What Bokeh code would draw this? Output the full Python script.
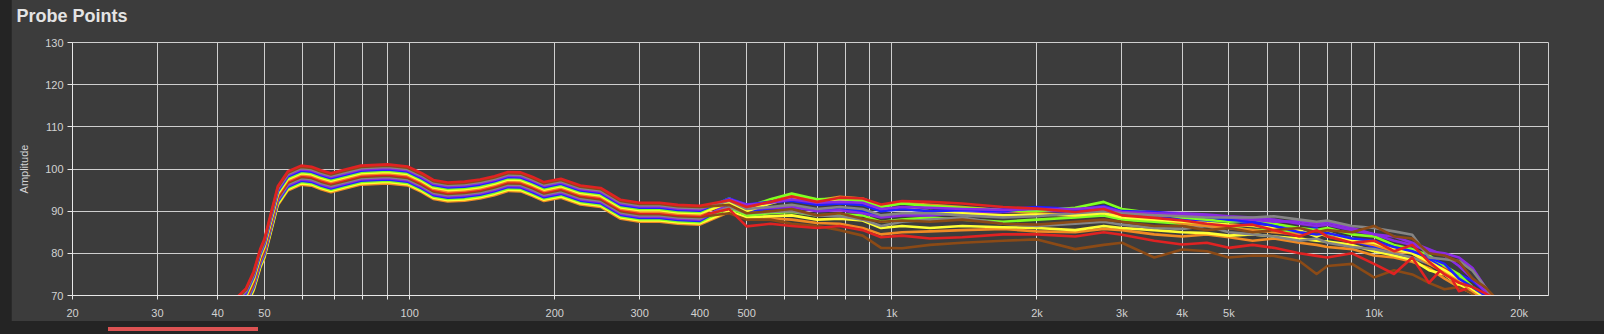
import json
from bokeh.plotting import figure
from bokeh.models import Range1d, FixedTicker, CustomJSTickFormatter, Div
from bokeh.layouts import column
from bokeh.embed import file_html
from bokeh.resources import INLINE

# ---------------- data ----------------
# shared low-frequency bundle (Hz) and its centre curve (dB)
LOW_F = [42, 44, 45.8, 47.5, 49, 50, 51.5, 53.3, 55.9, 59.6, 62.6, 65.5, 68.7, 73.2, 79.3, 90, 99, 106,
         112, 120, 130, 140, 150, 160, 170, 180, 190, 206, 226, 249, 274, 300, 330, 360, 400]
LOW_BASE = [63.4, 67.4, 69.4, 73.4, 78.7, 81.1, 86.9, 93.6, 97.1, 98.5, 98.25, 97.4, 96.7, 97.5, 98.5, 98.8,
            98.3, 96.7, 95.1, 94.5, 94.7, 95.2, 96.0, 97.0, 96.9, 95.8, 94.6, 95.4, 93.8, 93.2, 90.4, 89.7,
            89.7, 89.2, 89.0]
# per-probe offset within the bundle
OFFSETS = [2.3, 2.0, 1.7, 1.4, 1.1, 0.8, 0.5, 0.2, -0.1, -0.4, -0.7, -1.0, -1.3, -1.6, -1.9, -2.2]

HF = [460, 500, 560, 620, 700, 780, 870, 950, 1050, 1200, 1400, 1700, 2000, 2400, 2750, 3000, 3500, 4000,
      4500, 5000, 5600, 6200, 7000, 7600, 8000, 9000, 10000, 11000, 12000, 13000, 14000, 15000, 16000,
      17000, 18000]

P00 = [92.6, 91.0, 92.2, 93.5, 92.2, 93.2, 93.0, 91.6, 92.4, 92.2, 91.8, 91.0, 90.6, 89.8, 90.5, 89.0, 88.4,
       87.8, 87.0, 86.5, 86.8, 85.5, 84.0, 85.5, 84.0, 82.5, 83.0, 80.5, 82.0, 78.0, 75.0, 73.0, 72.0, 70.5, 69.0]
P01 = [91.5, 89.5, 90.0, 90.5, 89.0, 89.5, 88.2, 87.5, 87.8, 87.5, 88.0, 87.0, 86.8, 87.5, 88.0, 87.5, 86.5,
       86.5, 85.5, 86.0, 85.0, 85.5, 86.0, 85.0, 85.5, 85.0, 86.5, 84.0, 83.5, 80.0, 79.5, 78.0, 74.0, 72.0, 69.0]
P02 = [92.5, 90.5, 91.0, 91.5, 90.5, 91.0, 90.5, 89.0, 89.5, 89.5, 89.0, 88.5, 88.8, 89.5, 90.0, 89.5, 89.0,
       88.8, 88.5, 88.5, 88.5, 88.8, 88.0, 87.5, 87.8, 86.5, 86.0, 85.2, 84.4, 79.0, 78.6, 78.2, 75.9, 72.0, 68.0]
P03 = [92.8, 91.5, 92.0, 92.8, 92.0, 92.2, 92.0, 90.5, 91.0, 90.8, 90.5, 90.3, 90.5, 90.5, 91.0, 89.8, 89.5,
       89.3, 89.0, 88.5, 88.0, 87.5, 87.6, 87.0, 87.4, 86.0, 84.5, 84.0, 82.5, 81.0, 79.5, 77.0, 74.0, 71.0, 68.0]
P04 = [93.0, 91.6, 92.2, 92.5, 91.5, 91.8, 91.5, 90.0, 90.5, 90.0, 90.2, 90.0, 90.8, 90.2, 91.2, 90.0, 89.8,
       89.2, 88.6, 88.0, 87.5, 86.5, 85.0, 84.5, 84.8, 83.5, 83.0, 81.5, 80.5, 79.0, 77.5, 74.0, 72.0, 70.0, 67.0]
P05 = [93.0, 91.0, 92.8, 94.2, 92.8, 93.0, 92.5, 91.0, 91.8, 91.2, 90.8, 90.2, 90.0, 90.8, 92.2, 90.5, 89.5,
       88.5, 88.0, 87.5, 87.8, 87.0, 86.0, 85.5, 86.0, 84.5, 84.0, 82.0, 81.0, 79.5, 77.0, 75.0, 72.0, 70.0, 67.0]
P06 = [92.0, 90.0, 91.8, 93.2, 92.0, 92.5, 92.0, 90.3, 90.8, 90.0, 89.5, 89.0, 89.2, 89.0, 89.5, 88.5, 88.0,
       87.5, 87.2, 86.8, 86.5, 86.0, 85.5, 84.0, 85.0, 83.0, 82.5, 81.0, 80.0, 78.0, 76.0, 74.0, 71.5, 69.5, 67.0]
P07 = [92.2, 90.2, 92.0, 93.8, 92.5, 93.4, 93.0, 91.2, 92.0, 91.5, 91.0, 90.2, 89.5, 89.0, 89.8, 88.8, 88.5,
       87.0, 86.5, 86.0, 85.5, 85.0, 84.5, 85.0, 84.0, 83.0, 82.0, 80.5, 80.0, 77.5, 75.5, 73.5, 71.0, 69.0, 67.0]
P08 = [90.5, 86.4, 87.0, 86.5, 86.0, 86.5, 85.5, 83.8, 84.2, 83.5, 83.8, 84.5, 84.5, 84.0, 85.0, 84.4, 83.0,
       82.1, 82.5, 81.3, 82.0, 81.3, 80.0, 79.4, 79.0, 80.0, 77.5, 75.1, 79.0, 73.0, 77.0, 71.0, 72.0, 69.0, 67.0]
P09 = [89.5, 88.0, 88.0, 87.0, 86.5, 85.5, 84.2, 81.3, 81.2, 82.0, 82.5, 83.0, 83.3, 81.0, 82.0, 82.5, 79.0,
       80.9, 80.5, 79.0, 79.5, 79.4, 78.2, 75.1, 77.0, 77.5, 74.3, 76.0, 75.0, 73.0, 71.5, 72.0, 70.5, 68.0, 66.0]
P10 = [91.0, 89.5, 89.8, 90.0, 89.0, 88.8, 88.0, 86.5, 87.5, 88.0, 88.5, 87.0, 86.5, 87.0, 87.5, 86.8, 86.0,
       85.8, 86.5, 85.0, 84.5, 84.0, 83.0, 83.5, 82.5, 81.5, 81.0, 80.0, 79.0, 77.5, 76.0, 73.5, 71.0, 69.0, 67.0]
P11 = [91.8, 90.5, 90.8, 91.0, 90.0, 90.2, 89.5, 88.5, 89.0, 89.0, 89.5, 89.8, 90.2, 89.8, 90.5, 90.0, 89.8,
       89.5, 89.2, 88.8, 88.5, 88.0, 87.0, 86.5, 86.8, 85.5, 84.5, 83.0, 82.0, 80.5, 80.0, 79.0, 76.5, 72.0, 68.0]
P12 = [91.5, 90.0, 90.5, 91.0, 90.2, 90.5, 90.0, 88.8, 89.3, 89.8, 90.5, 90.5, 91.0, 90.5, 90.0, 89.0, 88.5,
       88.0, 87.5, 87.8, 87.0, 86.5, 85.5, 86.0, 84.0, 83.0, 81.5, 80.6, 81.0, 78.5, 76.5, 75.0, 73.5, 71.0, 68.0]
P13 = [90.8, 89.0, 89.5, 89.8, 89.0, 89.2, 89.0, 87.5, 88.0, 88.5, 88.0, 87.5, 88.0, 88.5, 89.0, 88.0, 87.5,
       87.0, 86.5, 86.2, 85.5, 85.5, 85.0, 84.5, 84.5, 83.5, 82.0, 81.5, 80.5, 78.5, 77.0, 74.5, 72.0, 70.0, 67.0]
P14 = [90.0, 88.5, 88.8, 89.0, 88.0, 88.2, 87.8, 86.0, 86.5, 86.0, 86.5, 86.2, 86.0, 85.5, 86.5, 86.0, 85.5,
       85.0, 84.8, 84.2, 84.5, 84.0, 83.5, 83.0, 82.8, 82.0, 80.5, 79.5, 78.5, 76.0, 75.0, 72.5, 71.0, 69.0, 67.0]
P15 = [89.8, 88.2, 88.3, 88.0, 87.2, 87.0, 86.0, 84.5, 85.0, 85.2, 85.5, 85.8, 85.2, 85.0, 85.8, 85.5, 84.5,
       84.0, 84.5, 83.8, 83.0, 83.5, 82.5, 82.0, 81.5, 81.0, 79.5, 79.0, 78.0, 76.5, 74.0, 72.0, 70.5, 68.5, 66.0]

PROBES = [P00, P01, P02, P03, P04, P05, P06, P07, P08, P09, P10, P11, P12, P13, P14, P15]
COLORS = ["#e02222", "#8b4a16", "#858585", "#8a2be2", "#2020ff", "#80ff20", "#ffff33", "#f08a24",
          "#e02222", "#8b4a16", "#858585", "#8a2be2", "#2020ff", "#80ff20", "#ffff33", "#f08a24"]

X_TICKS = [20, 30, 40, 50, 60, 70, 80, 90, 100, 200, 300, 400, 500, 600, 700, 800, 900,
           1000, 2000, 3000, 4000, 5000, 6000, 7000, 8000, 9000, 10000, 20000]
X_LABELED = [20, 30, 40, 50, 100, 200, 300, 400, 500, 1000, 2000, 3000, 4000, 5000, 10000, 20000]
X_LABELS = ["20", "30", "40", "50", "100", "200", "300", "400", "500", "1k", "2k", "3k", "4k", "5k", "10k", "20k"]
Y_TICKS = [70, 80, 90, 100, 110, 120, 130]

# ---------------- figure ----------------
PANEL = "#3c3c3c"
GRID = "#cfcfcf"
TXT = "#d2d2d2"

p = figure(width=1593, height=335, x_axis_type="log",
           x_range=Range1d(20, 23000), y_range=Range1d(70, 130),
           output_backend="svg", toolbar_location=None,
           background_fill_color=PANEL, border_fill_color=PANEL,
           min_border_left=61, min_border_right=56, min_border_top=0, min_border_bottom=24)
p.margin = (-13, 0, 0, 11)
p.outline_line_color = GRID
p.outline_line_width = 1

p.title.text = "Probe Points"
p.title.align = "left"
p.title.offset = -56
p.title.standoff = 33
p.title.text_font = "Liberation Sans"
p.title.text_font_style = "bold"
p.title.text_font_size = "18px"
p.title.text_color = "#e4e4e4"

for i in reversed(range(len(PROBES))):
    xs = LOW_F + HF
    ys = [b + OFFSETS[i] for b in LOW_BASE] + PROBES[i]
    p.line(xs, ys, line_color=COLORS[i], line_width=2.6, line_join="round")

lab = dict(zip([str(v) for v in X_LABELED], X_LABELS))
p.xaxis.ticker = FixedTicker(ticks=X_TICKS)
p.xaxis.formatter = CustomJSTickFormatter(code="const m = %s; const k = String(Math.round(tick)); return (k in m) ? m[k] : '';" % json.dumps(lab))
p.yaxis.ticker = FixedTicker(ticks=Y_TICKS)

for ax in (p.xaxis[0], p.yaxis[0]):
    ax.axis_line_color = "#e8e8e8"
    ax.axis_line_width = 1
    ax.major_tick_line_color = "#e8e8e8"
    ax.major_tick_in = 0
    ax.minor_tick_line_color = None
    ax.major_label_text_color = TXT
    ax.major_label_text_font = "Liberation Sans"
    ax.major_label_text_font_size = "11px"

p.yaxis.major_tick_out = 5
p.yaxis.major_label_standoff = 4
p.xaxis.major_tick_out = 4
p.xaxis.major_label_standoff = 7

p.yaxis.axis_label = "Amplitude"
p.yaxis.axis_label_text_font = "Liberation Sans"
p.yaxis.axis_label_text_font_size = "11px"
p.yaxis.axis_label_text_font_style = "normal"
p.yaxis.axis_label_text_color = TXT
p.yaxis.axis_label_standoff = 12

p.xgrid.grid_line_color = GRID
p.ygrid.grid_line_color = GRID
p.xgrid.grid_line_width = 1
p.ygrid.grid_line_width = 1

bar = Div(text="", width=150, height=4, margin=(6, 0, 0, 108),
          styles={"background-color": "#dc5252"})

root = column(p, bar, width=1604, height=334, styles={"background-color": "#242424"})

open("out.html", "w").write(file_html(root, INLINE))
